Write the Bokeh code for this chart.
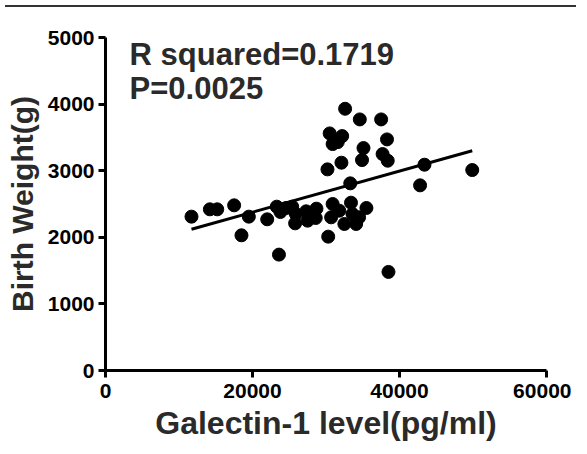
from bokeh.plotting import figure
from bokeh.models import Label, Range1d, FixedTicker, Div
from bokeh.layouts import column
from bokeh.embed import file_html
from bokeh.resources import INLINE

# Data
galectin = [11700, 14200, 15200, 17500, 18500, 19500, 22000, 23300, 23800, 23600,
            24600, 25400, 25900, 25800, 27300, 27500, 28700, 28600, 30300, 30700,
            30900, 31800, 32500, 33400, 33600, 34100, 34500, 35500, 38500, 33300,
            42800, 43400, 49900, 30200, 32100, 34900, 35100, 37700, 38400, 38300,
            30500, 32200, 30900, 31600, 32600, 34600, 37500]
birth_weight = [2310, 2420, 2420, 2480, 2030, 2310, 2270, 2460, 2380, 1740,
                2440, 2460, 2350, 2210, 2390, 2250, 2430, 2290, 2010, 2300,
                2500, 2400, 2200, 2520, 2350, 2200, 2300, 2440, 1480, 2810,
                2780, 3090, 3010, 3020, 3120, 3160, 3340, 3250, 3150, 3470,
                3560, 3520, 3400, 3430, 3930, 3770, 3770]
fit_x = [11700, 49900]
fit_y = [2120, 3300]
x_ticks = [0, 20000, 40000, 60000]
y_ticks = [0, 1000, 2000, 3000, 4000, 5000]
x_title = "Galectin-1 level(pg/ml)"
y_title = "Birth Weight(g)"
r2_text = "R squared=0.1719"
p_text = "P=0.0025"

FONT = "Liberation Sans"
DARK = "#2a2a2a"

p = figure(width=571, height=436, output_backend="svg", toolbar_location=None,
           x_range=Range1d(0, 60000), y_range=Range1d(0, 5000),
           min_border_left=105, min_border_right=25, min_border_top=25, min_border_bottom=78)
p.outline_line_color = None
p.xgrid.visible = False
p.ygrid.visible = False
p.background_fill_color = "white"
p.border_fill_color = "white"

for ax in (p.xaxis[0], p.yaxis[0]):
    ax.axis_line_width = 3
    ax.axis_line_color = "black"
    ax.major_tick_line_width = 3
    ax.major_tick_line_color = "black"
    ax.major_tick_in = 0
    ax.major_tick_out = 7
    ax.minor_tick_line_color = None
    ax.major_label_text_font = FONT
    ax.major_label_text_font_style = "bold"
    ax.major_label_text_font_size = "21px"
    ax.major_label_text_color = "black"
    ax.axis_label_text_font = FONT
    ax.axis_label_text_font_style = "bold"
    ax.axis_label_text_color = DARK

p.xaxis.ticker = FixedTicker(ticks=x_ticks)
p.yaxis.ticker = FixedTicker(ticks=y_ticks)
p.xaxis.axis_label = x_title
p.yaxis.axis_label = y_title
p.xaxis.axis_label_text_font_size = "32px"
p.yaxis.axis_label_text_font_size = "30px"
p.xaxis.major_label_standoff = 6
p.yaxis.major_label_standoff = 4
p.xaxis.axis_label_standoff = 4
p.yaxis.axis_label_standoff = 6

p.scatter(galectin, birth_weight, size=13, marker="circle", fill_color="black", line_color="black")
p.line(fit_x, fit_y, line_width=3, line_color="black")

for txt, yy in ((r2_text, 4745), (p_text, 4234)):
    p.add_layout(Label(x=3270, y=yy, text=txt, text_font=FONT, text_font_style="bold",
                       text_font_size="31px", text_color=DARK, text_baseline="alphabetic"))

top_rule = Div(width=571, height=2, styles={"border-top": "2px solid #333", "box-sizing": "border-box"})
layout = column(top_rule, p, spacing=0)

open("out.html", "w").write(file_html(layout, INLINE))
